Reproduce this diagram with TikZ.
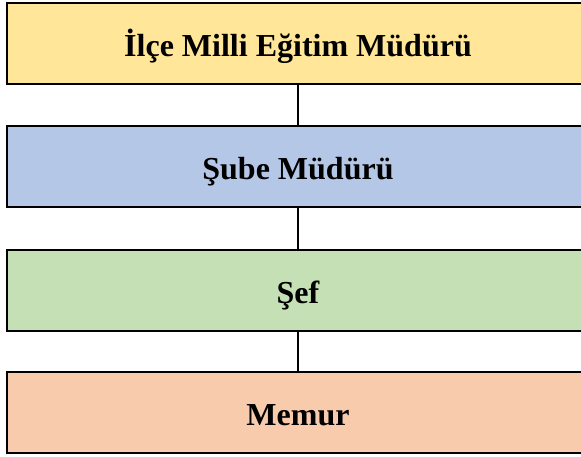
\documentclass[tikz,border=0pt]{standalone}
\usepackage{fontspec}
\setmainfont{Liberation Serif}
\definecolor{cyel}{HTML}{FFE699}
\definecolor{cblu}{HTML}{B4C7E7}
\definecolor{cgrn}{HTML}{C5E0B4}
\definecolor{corg}{HTML}{F8CBAD}
\begin{document}
\begin{tikzpicture}[x=1pt,y=-1pt,
  levelbox/.style={draw=black,line width=2pt,minimum width=582pt,minimum height=81pt,
    inner sep=0pt,text height=25.4pt,text depth=0pt,
    font=\fontsize{32}{36}\selectfont\bfseries,text=black},
  link/.style={draw=black,line width=2pt}]
\useasboundingbox (0,0) rectangle (581,457);
\node[levelbox,fill=cyel] (a) at (298,44) {İlçe Milli Eğitim Müdürü};
\node[levelbox,fill=cblu] (b) at (298,167) {Şube Müdürü};
\node[levelbox,fill=cgrn] (c) at (298,290.3) {Şef};
\node[levelbox,fill=corg] (d) at (298,412.7) {Memur};
\draw[link] (a.south) -- (b.north);
\draw[link] (b.south) -- (c.north);
\draw[link] (c.south) -- (d.north);
\end{tikzpicture}
\end{document}
